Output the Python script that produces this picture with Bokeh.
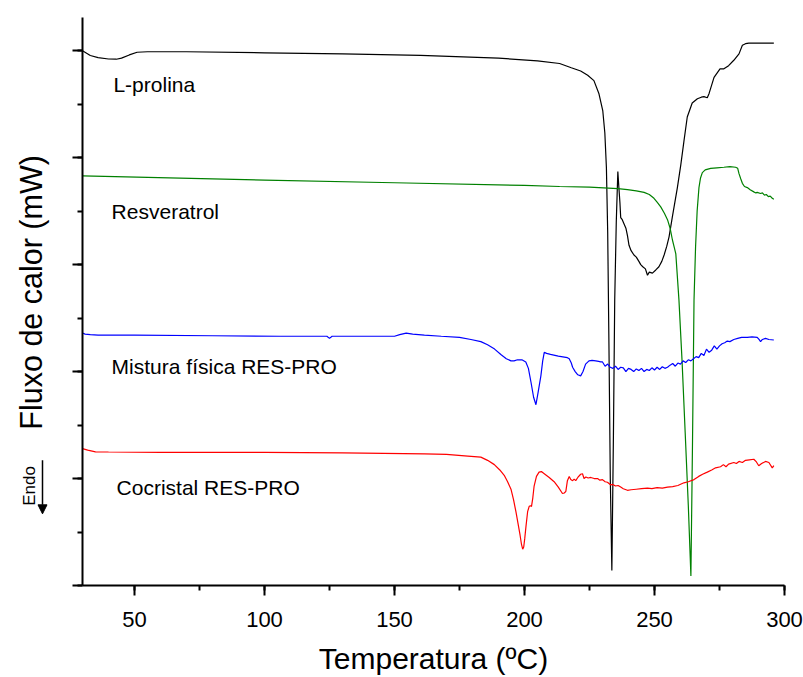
import math
from bokeh.plotting import figure
from bokeh.layouts import row
from bokeh.models import SingleIntervalTicker, Label, Arrow, NormalHead, Range1d
from bokeh.embed import file_html
from bokeh.resources import INLINE

# ---------------- data (temperature in ºC, heat flow in arbitrary mW units) ----------------
prolina_T = [30, 33, 36, 40, 43, 45, 48, 51, 55, 70, 100, 130, 160, 190, 205, 213.5, 218, 221.6,
             224.3, 226.7, 228.6, 230.1, 230.9, 231.5, 232.0, 232.5, 233.0, 233.6, 234.2, 234.7,
             235.3, 235.9, 236.3, 236.7, 237.0, 237.6, 238.3, 239.0, 239.6, 240.2, 241.0, 242.1,
             243.0, 244.0, 244.7, 245.5, 246.5, 247.3, 248.0, 249.2, 250.5, 251.7, 252.8, 253.7,
             254.7, 255.6, 256.9, 258.8, 260.1, 261.3, 262.6, 264.5, 266.5, 268.0, 269.0, 270.3,
             271.0, 272.9, 275.2, 276.7, 278.5, 280.5, 282.5, 283.8, 285.0, 286.3, 290, 295.9]
prolina_Q = [5.00, 4.955, 4.935, 4.922, 4.92, 4.93, 4.96, 4.985, 4.99, 4.99, 4.98, 4.97, 4.955,
             4.93, 4.905, 4.88, 4.84, 4.81, 4.77, 4.72, 4.60, 4.44, 4.23, 3.91, 3.3, 2.2, 1.0, 0.14,
             1.4, 2.67, 3.4, 3.87, 3.72, 3.58, 3.44, 3.42, 3.38, 3.34, 3.27, 3.18, 3.13, 3.09, 3.07,
             3.03, 3.00, 2.98, 2.96, 2.90, 2.93, 2.92, 2.95, 2.98, 3.03, 3.09, 3.17, 3.26, 3.45,
             3.72, 3.93, 4.15, 4.38, 4.51, 4.55, 4.565, 4.57, 4.56, 4.60, 4.75, 4.83, 4.83, 4.86,
             4.91, 4.97, 5.05, 5.065, 5.07, 5.07, 5.07]

resv_T = [30, 100, 150, 200, 213.5, 225, 235.9, 239.6, 243, 246, 248, 249.8, 251, 252.4, 253.8,
          255, 256.0, 256.9, 257.6, 258.2, 259.4, 260.6, 261.8, 263.0, 264.0, 264.6, 265.2, 265.8,
          266.4, 267.1, 267.7, 268.4, 269.5, 271.6, 274, 276.7, 279, 281.2, 282.0, 282.5, 283.2,
          283.8, 284.6, 285.7, 286.8, 288.2, 289.0, 289.5, 290.8, 291.5, 292.3, 293.0, 293.8,
          294.5, 295.3, 295.9]
resv_Q = [3.83, 3.79, 3.765, 3.74, 3.73, 3.725, 3.71, 3.70, 3.69, 3.675, 3.655, 3.62, 3.585,
          3.54, 3.48, 3.42, 3.34, 3.23, 3.16, 3.10, 2.67, 2.1, 1.43, 0.75, 0.09, 1.3, 2.67, 3.17,
          3.5, 3.72, 3.81, 3.86, 3.885, 3.90, 3.905, 3.91, 3.915, 3.91, 3.90, 3.85, 3.80, 3.76,
          3.73, 3.72, 3.70, 3.68, 3.67, 3.675, 3.665, 3.67, 3.65, 3.655, 3.635, 3.64, 3.62, 3.61]

mist_T = [30, 31, 33, 36, 50, 80, 106, 124, 125, 126, 140, 150, 152, 154.5, 157, 161.5, 168, 175,
          179.4, 183.2, 185.8, 188.5, 190.9, 193, 194.8, 196, 197.3, 199, 200.5, 201.5, 202.5,
          203.5, 204.4, 205.2, 206.3, 207.0, 207.6, 208.5, 210, 213, 216.5, 217.2, 218.0, 218.5,
          219.5, 220.5, 221.6, 222.5, 223.5, 224.8, 226, 227.4, 228.5, 229.3,
          230, 231, 232, 233, 234, 235, 236, 237, 238, 239, 240, 241, 242, 243, 244, 245, 246,
          247, 248, 249, 250, 251, 252, 253, 254, 255, 256, 257, 258, 259, 260, 261, 262, 263,
          264, 265, 266, 267, 268, 269, 270, 271, 272, 273, 274, 275,
          276, 277, 278, 279, 280.5, 282, 283.5, 285.7, 287.5, 289.5, 290.2, 290.8, 291.5, 292.7,
          294, 295.9]
mist_Q = [2.36, 2.35, 2.345, 2.34, 2.34, 2.335, 2.33, 2.33, 2.31, 2.33, 2.33, 2.33, 2.345, 2.36,
          2.35, 2.34, 2.33, 2.32, 2.30, 2.28, 2.25, 2.21, 2.16, 2.12, 2.10, 2.10, 2.11, 2.11, 2.09,
          2.03, 1.90, 1.76, 1.69, 1.80, 1.96, 2.10, 2.18, 2.17, 2.16, 2.145, 2.13, 2.12, 2.08,
          2.04, 2.0, 1.97, 1.96, 2.0, 2.07, 2.10, 2.105, 2.10, 2.095, 2.09,
          2.09, 2.05, 2.07, 2.04, 2.03, 2.05, 2.02, 2.04, 2.035, 2.00, 2.03, 2.02, 2.00, 2.025,
          2.01, 2.03, 2.00, 2.02, 2.01, 2.035, 2.015, 2.04, 2.02, 2.045, 2.03, 2.04, 2.06, 2.075,
          2.05, 2.08, 2.07, 2.10, 2.085, 2.11, 2.10, 2.12, 2.14, 2.13, 2.17, 2.15, 2.21, 2.18,
          2.20, 2.24, 2.21, 2.24,
          2.26, 2.27, 2.285, 2.28, 2.30, 2.31, 2.32, 2.32, 2.325, 2.32, 2.30, 2.28, 2.30, 2.31,
          2.30, 2.295]

cocr_T = [30, 32, 35, 40, 60, 100, 130, 161.5, 170, 178.2, 183.2, 185.8, 188.4, 190.5, 192.2,
          193.5, 194.8, 195.8, 196.7, 197.5, 198.3, 198.8, 199.3, 199.7, 200.1, 200.6, 201.2,
          201.8, 202.3, 202.7, 203.2, 203.7, 204.6, 205.6, 206.5, 207.6, 209.5, 211.4, 213,
          214.6, 215.3, 215.9, 216.5, 217.2, 217.8, 218.5, 219.1, 219.7, 220.5, 221.6, 222.3,
          222.9, 223.6, 224.5, 225.5, 226.8, 228.1, 229, 230, 231, 231.9, 233.2, 234, 235, 236,
          237, 238, 239.6, 241, 243, 245, 247.3, 249, 251, 253, 255, 257, 259, 261.3, 263, 265.2,
          267, 268.5, 270.3, 272, 273.5, 275.4, 276.5, 277.5, 278.5, 280.5, 281.5, 282.5, 283.8,
          285, 286.5, 288.2, 289.2, 290.1, 291.2, 292.7, 294, 295.3, 295.9]
cocr_Q = [1.28, 1.265, 1.25, 1.248, 1.245, 1.245, 1.24, 1.23, 1.225, 1.21, 1.20, 1.17, 1.13,
          1.08, 1.03, 0.97, 0.90, 0.80, 0.69, 0.58, 0.47, 0.39, 0.34, 0.36, 0.44, 0.56, 0.69,
          0.74, 0.745, 0.74, 0.82, 0.93, 1.02, 1.06, 1.065, 1.045, 1.01, 0.97, 0.92, 0.86, 0.865,
          0.88, 0.98, 1.02, 0.99, 0.98, 0.995, 0.98, 1.01, 1.04, 1.045, 1.00, 1.015, 1.005, 1.01,
          1.00, 1.00, 0.985, 0.99, 0.97, 0.965, 0.94, 0.945, 0.93, 0.935, 0.92, 0.905, 0.89,
          0.895, 0.90, 0.905, 0.91, 0.905, 0.915, 0.91, 0.92, 0.925, 0.935, 0.96, 0.97, 0.99,
          1.02, 1.04, 1.06, 1.08, 1.10, 1.11, 1.13, 1.11, 1.135, 1.15, 1.14, 1.16, 1.15, 1.17,
          1.175, 1.18, 1.155, 1.12, 1.14, 1.16, 1.15, 1.10, 1.12]

series_names = ["L-prolina", "Resveratrol", "Mistura física RES-PRO", "Cocristal RES-PRO"]
x_title = "Temperatura (ºC)"
y_title = "Fluxo de calor (mW)"

FONT = "Liberation Sans"
TOP, BOTTOM = 17, 90            # vertical borders shared by both panels
SIDE_W = 72                     # width of the left text panel (px)
Y_RANGE = (0, 5.31)

# ---------------- left panel: y title and "Endo" indicator ----------------
side = figure(width=SIDE_W, height=677, x_range=Range1d(0, SIDE_W), y_range=Range1d(*Y_RANGE),
              output_backend="svg", toolbar_location=None,
              x_axis_location=None, y_axis_location=None,
              min_border_left=0, min_border_right=0, min_border_top=TOP, min_border_bottom=BOTTOM)
side.grid.visible = False
side.outline_line_color = None
side.background_fill_color = "white"
side.border_fill_color = "white"

side.add_layout(Label(x=30, y=2.74, text=y_title, angle=math.pi / 2,
                      text_font=FONT, text_font_size="30.5px", text_color="black",
                      text_align="center", text_baseline="middle"))
side.add_layout(Label(x=28.5, y=0.93, text="Endo", angle=math.pi / 2, text_font=FONT,
                      text_font_size="17px", text_color="black",
                      text_align="center", text_baseline="middle"))
side.add_layout(Arrow(x_start=42, y_start=1.17, x_end=42, y_end=0.67,
                      line_width=1.5, line_color="black",
                      end=NormalHead(size=9, fill_color="black", line_color="black")))

# ---------------- main plot ----------------
p = figure(width=803 - SIDE_W, height=677, x_range=Range1d(30, 300), y_range=Range1d(*Y_RANGE),
           output_backend="svg", toolbar_location=None,
           min_border_left=10, min_border_right=19, min_border_top=TOP, min_border_bottom=BOTTOM)
p.grid.visible = False
p.outline_line_color = None
p.background_fill_color = "white"
p.border_fill_color = "white"

p.line(prolina_T, prolina_Q, line_color="black", line_width=1.2)
p.line(resv_T, resv_Q, line_color="#008000", line_width=1.2)
p.line(mist_T, mist_Q, line_color="#0000FF", line_width=1.2)
p.line(cocr_T, cocr_Q, line_color="#FF0000", line_width=1.2)

p.xaxis.ticker = SingleIntervalTicker(interval=50, num_minor_ticks=2)
p.yaxis.ticker = SingleIntervalTicker(interval=1, num_minor_ticks=2)
for ax in (p.xaxis, p.yaxis):
    ax.axis_line_width = 2
    ax.major_tick_line_width = 2
    ax.minor_tick_line_width = 2
    ax.major_tick_out = 10
    ax.major_tick_in = 0
    ax.minor_tick_out = 5
    ax.minor_tick_in = 0

p.xaxis.axis_label = x_title
p.xaxis.axis_label_text_font = FONT
p.xaxis.axis_label_text_font_style = "normal"
p.xaxis.axis_label_text_font_size = "30px"
p.xaxis.axis_label_text_color = "black"
p.xaxis.axis_label_standoff = 12
p.xaxis.major_label_text_font = FONT
p.xaxis.major_label_text_font_size = "22px"
p.xaxis.major_label_text_color = "black"
p.xaxis.major_label_standoff = 16

# the reference y axis carries ticks only, no numbers
p.yaxis.major_label_text_font_size = "0px"
p.yaxis.major_label_text_color = None
p.yaxis.major_label_standoff = 0

label_pos = [(41.9, 4.685), (41.2, 3.50), (41.2, 2.05), (43.1, 0.915)]
for name, (lx, ly) in zip(series_names, label_pos):
    p.add_layout(Label(x=lx, y=ly, text=name, text_font=FONT, text_font_size="21px",
                       text_color="black", text_baseline="middle", text_align="left"))

layout = row(side, p)
open("out.html", "w").write(file_html(layout, INLINE))
